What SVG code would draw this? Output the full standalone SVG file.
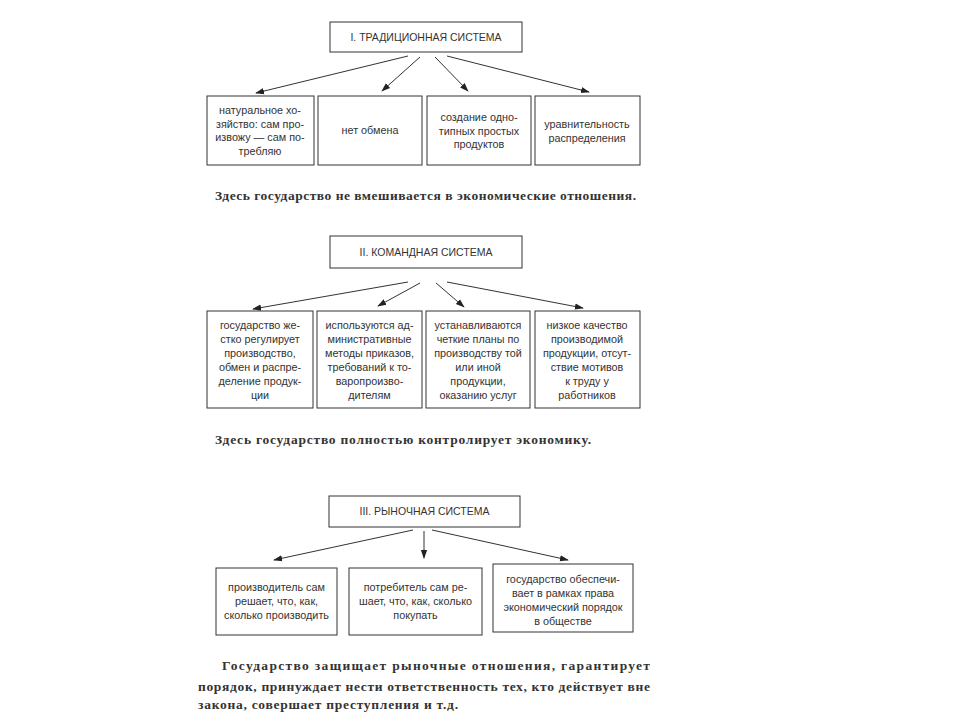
<svg xmlns="http://www.w3.org/2000/svg" width="960" height="720" viewBox="0 0 960 720">
<defs>
<marker id="ah" viewBox="0 0 10 10" refX="9" refY="5" markerWidth="9" markerHeight="9" markerUnits="userSpaceOnUse" orient="auto">
<path d="M0,1.5 L10,5 L0,8.5 Z" fill="#222"/>
</marker>
<style>
.box{fill:#fff;stroke:#333;stroke-width:1}
.t{font-family:"Liberation Sans",Arial,sans-serif;font-size:10.8px;fill:#333;text-anchor:middle}
.h{font-family:"Liberation Sans",Arial,sans-serif;font-size:10.5px;fill:#333;text-anchor:middle}
.cap{font-family:"Liberation Serif","Times New Roman",serif;font-size:13.5px;font-weight:bold;fill:#333}
.c line{stroke:#333;stroke-width:1;marker-end:url(#ah)}
</style>
</defs>
<rect width="960" height="720" fill="#fff"/>

<!-- Section I -->
<g id="t1"><rect class="box" x="330" y="22" width="192" height="30"/><text class="h" x="426" y="41">I. ТРАДИЦИОННАЯ СИСТЕМА</text></g>
<g id="n1a"><rect class="box" x="207" y="96" width="107" height="69"/>
<text class="t" x="260" y="114">натуральное хо-</text><text class="t" x="260" y="127.5">зяйство: сам про-</text><text class="t" x="260" y="141">извожу — сам по-</text><text class="t" x="260" y="154.5">требляю</text></g>
<g id="n1b"><rect class="box" x="318" y="96" width="104" height="69"/>
<text class="t" x="370" y="134">нет обмена</text></g>
<g id="n1c"><rect class="box" x="427" y="96" width="104" height="69"/>
<text class="t" x="479" y="121">создание одно-</text><text class="t" x="479" y="134.5">типных простых</text><text class="t" x="479" y="148">продуктов</text></g>
<g id="n1d"><rect class="box" x="535" y="96" width="105" height="69"/>
<text class="t" x="587" y="128">уравнительность</text><text class="t" x="587" y="141.5">распределения</text></g>
<text class="cap" x="215" y="200" textLength="421" lengthAdjust="spacing">Здесь государство не вмешивается в экономические отношения.</text>

<!-- Section II -->
<g id="t2"><rect class="box" x="330" y="236" width="192" height="32"/><text class="h" x="426" y="256">II. КОМАНДНАЯ СИСТЕМА</text></g>
<g id="n2a"><rect class="box" x="207" y="311" width="106" height="97"/>
<text class="t" x="260" y="329">государство же-</text><text class="t" x="260" y="343">стко регулирует</text><text class="t" x="260" y="357">производство,</text><text class="t" x="260" y="371">обмен и распре-</text><text class="t" x="260" y="385">деление продук-</text><text class="t" x="260" y="399">ции</text></g>
<g id="n2b"><rect class="box" x="317" y="311" width="105" height="97"/>
<text class="t" x="369.5" y="329">используются ад-</text><text class="t" x="369.5" y="343">министративные</text><text class="t" x="369.5" y="357">методы приказов,</text><text class="t" x="369.5" y="371">требований к то-</text><text class="t" x="369.5" y="385">варопроизво-</text><text class="t" x="369.5" y="399">дителям</text></g>
<g id="n2c"><rect class="box" x="426" y="311" width="104" height="97"/>
<text class="t" x="478" y="329">устанавливаются</text><text class="t" x="478" y="343">четкие планы по</text><text class="t" x="478" y="357">производству той</text><text class="t" x="478" y="371">или иной</text><text class="t" x="478" y="385">продукции,</text><text class="t" x="478" y="399">оказанию услуг</text></g>
<g id="n2d"><rect class="box" x="535" y="311" width="105" height="97"/>
<text class="t" x="587" y="329">низкое качество</text><text class="t" x="587" y="343">производимой</text><text class="t" x="587" y="357">продукции, отсут-</text><text class="t" x="587" y="371">ствие мотивов</text><text class="t" x="587" y="385">к труду у</text><text class="t" x="587" y="399">работников</text></g>
<text class="cap" x="215" y="444" textLength="376" lengthAdjust="spacing">Здесь государство полностью контролирует экономику.</text>

<!-- Section III -->
<g id="t3"><rect class="box" x="329" y="496" width="191" height="31"/><text class="h" x="424.5" y="515">III. РЫНОЧНАЯ СИСТЕМА</text></g>
<g id="n3a"><rect class="box" x="216" y="568" width="121" height="67"/>
<text class="t" x="276.5" y="591">производитель сам</text><text class="t" x="276.5" y="605">решает, что, как,</text><text class="t" x="276.5" y="619">сколько производить</text></g>
<g id="n3b"><rect class="box" x="349" y="568" width="133" height="67"/>
<text class="t" x="415.5" y="591">потребитель сам ре-</text><text class="t" x="415.5" y="605">шает, что, как, сколько</text><text class="t" x="415.5" y="619">покупать</text></g>
<g id="n3c"><rect class="box" x="493" y="564" width="140" height="68"/>
<text class="t" x="563" y="583">государство обеспечи-</text><text class="t" x="563" y="597">вает в рамках права</text><text class="t" x="563" y="611">экономический порядок</text><text class="t" x="563" y="625">в обществе</text></g>
<text class="cap" x="222" y="670" textLength="428" lengthAdjust="spacing">Государство защищает рыночные отношения, гарантирует</text>
<text class="cap" x="198" y="691" textLength="452" lengthAdjust="spacing">порядок, принуждает нести ответственность тех, кто действует вне</text>
<text class="cap" x="198" y="709" textLength="260" lengthAdjust="spacing">закона, совершает преступления и т.д.</text>

<g id="connectors" class="c">
<line x1="408" y1="56" x2="256" y2="93"/>
<line x1="420" y1="57" x2="382" y2="91"/>
<line x1="435" y1="57" x2="468" y2="91"/>
<line x1="447" y1="56" x2="589" y2="92"/>
<line x1="408" y1="282" x2="253" y2="309"/>
<line x1="420" y1="283" x2="378" y2="306"/>
<line x1="436" y1="283" x2="464" y2="307"/>
<line x1="447" y1="282" x2="583" y2="308"/>
<line x1="413" y1="530" x2="274" y2="560"/>
<line x1="424" y1="531" x2="424" y2="558"/>
<line x1="432" y1="530" x2="568" y2="560"/>
</g>
</svg>
